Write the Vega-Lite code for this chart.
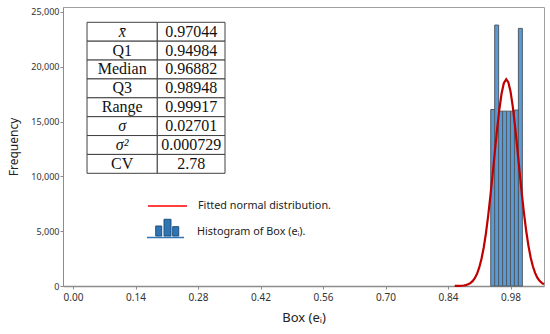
{
  "$schema": "https://vega.github.io/schema/vega-lite/v6.json",
  "width": 481,
  "height": 279,
  "autosize": {"type": "none"},
  "padding": {"left": 63, "top": 7, "right": 6, "bottom": 48},
  "background": "white",
  "config": {
    "view": {"stroke": "#a0a0a0", "strokeWidth": 1},
    "axis": {
      "grid": false,
      "domainColor": "#8c8c8c",
      "tickColor": "#8c8c8c",
      "tickSize": 3,
      "labelFont": "Noto Sans",
      "labelColor": "#333333",
      "titleFont": "Noto Sans",
      "titleFontWeight": "normal",
      "titleColor": "#222222"
    }
  },
  "datasets": {
    "hist": [
      {"x0": 0.9357, "x1": 0.94455, "count": 16100},
      {"x0": 0.94455, "x1": 0.9534, "count": 23800},
      {"x0": 0.9534, "x1": 0.96225, "count": 15950},
      {"x0": 0.96225, "x1": 0.9711, "count": 15950},
      {"x0": 0.9711, "x1": 0.97995, "count": 15950},
      {"x0": 0.97995, "x1": 0.9888, "count": 15950},
      {"x0": 0.9888, "x1": 0.99765, "count": 16050},
      {"x0": 0.99765, "x1": 1.0065, "count": 23500}
    ],
    "normal": [
      {"x": 0.855, "freq": 3},
      {"x": 0.86, "freq": 6},
      {"x": 0.865, "freq": 12},
      {"x": 0.87, "freq": 24},
      {"x": 0.875, "freq": 46},
      {"x": 0.88, "freq": 85},
      {"x": 0.885, "freq": 152},
      {"x": 0.89, "freq": 263},
      {"x": 0.895, "freq": 440},
      {"x": 0.9, "freq": 712},
      {"x": 0.905, "freq": 1115},
      {"x": 0.91, "freq": 1691},
      {"x": 0.915, "freq": 2480},
      {"x": 0.92, "freq": 3517},
      {"x": 0.925, "freq": 4828},
      {"x": 0.93, "freq": 6411},
      {"x": 0.935, "freq": 8236},
      {"x": 0.94, "freq": 10237},
      {"x": 0.945, "freq": 12310},
      {"x": 0.95, "freq": 14324},
      {"x": 0.955, "freq": 16124},
      {"x": 0.96, "freq": 17559},
      {"x": 0.965, "freq": 18500},
      {"x": 0.9704, "freq": 18860},
      {"x": 0.975, "freq": 18598},
      {"x": 0.98, "freq": 17746},
      {"x": 0.985, "freq": 16382},
      {"x": 0.99, "freq": 14630},
      {"x": 0.995, "freq": 12642},
      {"x": 1.0, "freq": 10567},
      {"x": 1.005, "freq": 8547},
      {"x": 1.01, "freq": 6688},
      {"x": 1.015, "freq": 5062},
      {"x": 1.02, "freq": 3708},
      {"x": 1.025, "freq": 2627},
      {"x": 1.03, "freq": 1801},
      {"x": 1.035, "freq": 1194},
      {"x": 1.04, "freq": 766},
      {"x": 1.045, "freq": 476},
      {"x": 1.05, "freq": 286},
      {"x": 1.055, "freq": 166}
    ],
    "stats": [
      {"stat": "x̄", "value": "0.97044"},
      {"stat": "Q1", "value": "0.94984"},
      {"stat": "Median", "value": "0.96882"},
      {"stat": "Q3", "value": "0.98948"},
      {"stat": "Range", "value": "0.99917"},
      {"stat": "σ", "value": "0.02701"},
      {"stat": "σ²", "value": "0.000729"},
      {"stat": "CV", "value": "2.78"}
    ]
  },
  "layer": [
    {
      "layer": [
        {
          "data": {"name": "hist"},
          "mark": {"type": "rect", "fill": "#5b9bd5", "stroke": "#505a64", "strokeWidth": 1},
          "encoding": {
            "x": {
              "field": "x0", "type": "quantitative",
              "scale": {"domain": [-0.0224, 1.055], "nice": false, "zero": false},
              "axis": {
                "values": [0, 0.14, 0.28, 0.42, 0.56, 0.7, 0.84, 0.98],
                "format": ".2f",
                "labelFontSize": 10,
                "labelPadding": 3,
                "title": "Box (eᵢ)",
                "titleFontSize": 13,
                "titlePadding": 9,
                "domainWidth": 1.5
              }
            },
            "x2": {"field": "x1"},
            "y": {
              "field": "count", "type": "quantitative",
              "scale": {"domain": [0, 25450], "nice": false},
              "axis": {
                "values": [0, 5000, 10000, 15000, 20000, 25000],
                "format": ",.0f",
                "formatType": "number",
                "labelFontSize": 9,
                "labelPadding": 1,
                "title": "Frequency",
                "titleFontSize": 12,
                "titlePadding": 10
              }
            },
            "y2": {"datum": 0}
          }
        },
        {
          "data": {"name": "normal"},
          "mark": {"type": "line", "color": "#c00000", "strokeWidth": 2.2},
          "encoding": {
            "x": {"field": "x", "type": "quantitative"},
            "y": {"field": "freq", "type": "quantitative"}
          }
        },
        {
          "data": {"values": [{}]},
          "mark": {"type": "rule", "color": "#ff0000", "strokeWidth": 1.5},
          "encoding": {
            "x": {"datum": 0.168}, "x2": {"datum": 0.2554},
            "y": {"datum": 7299}
          }
        },
        {
          "data": {"values": [{}]},
          "mark": {"type": "rule", "color": "#2e75b6", "strokeWidth": 1.5},
          "encoding": {
            "x": {"datum": 0.1658}, "x2": {"datum": 0.2487},
            "y": {"datum": 4425}
          }
        },
        {
          "data": {"values": [{}]},
          "mark": {"type": "rect", "fill": "#2e75b6", "stroke": "#1f4e79", "strokeWidth": 1},
          "encoding": {
            "x": {"datum": 0.1853}, "x2": {"datum": 0.1987},
            "y": {"datum": 5474}, "y2": {"datum": 4562}
          }
        },
        {
          "data": {"values": [{}]},
          "mark": {"type": "rect", "fill": "#2e75b6", "stroke": "#1f4e79", "strokeWidth": 1},
          "encoding": {
            "x": {"datum": 0.2039}, "x2": {"datum": 0.2195},
            "y": {"datum": 6086}, "y2": {"datum": 4562}
          }
        },
        {
          "data": {"values": [{}]},
          "mark": {"type": "rect", "fill": "#2e75b6", "stroke": "#1f4e79", "strokeWidth": 1},
          "encoding": {
            "x": {"datum": 0.2233}, "x2": {"datum": 0.2368},
            "y": {"datum": 5411}, "y2": {"datum": 4562}
          }
        },
        {
          "data": {"values": [{}]},
          "mark": {"type": "text", "text": "Fitted normal distribution.", "align": "left", "baseline": "middle", "font": "Noto Sans", "fontSize": 10.8, "color": "#222222"},
          "encoding": {"x": {"datum": 0.28}, "y": {"datum": 7299}}
        },
        {
          "data": {"values": [{}]},
          "mark": {"type": "text", "text": "Histogram of Box (eᵢ).", "align": "left", "baseline": "middle", "font": "Noto Sans", "fontSize": 10.8, "color": "#222222"},
          "encoding": {"x": {"datum": 0.2778}, "y": {"datum": 4954}}
        }
      ]
    },
    {
      "data": {"name": "stats"},
      "layer": [
        {
          "mark": {"type": "rect", "fill": "white", "stroke": "#404040", "strokeWidth": 1},
          "encoding": {
            "x": {"datum": 0.0314}, "x2": {"datum": 0.1888},
            "y": {"field": "stat", "type": "nominal", "sort": null,
                  "scale": {"domain": ["x̄", "Q1", "Median", "Q3", "Range", "σ", "σ²", "CV"], "range": [15.3, 166.3], "paddingInner": 0, "paddingOuter": 0},
                  "axis": null}
          }
        },
        {
          "mark": {"type": "rect", "fill": "white", "stroke": "#404040", "strokeWidth": 1},
          "encoding": {
            "x": {"datum": 0.1888}, "x2": {"datum": 0.3405},
            "y": {"field": "stat", "type": "nominal", "sort": null, "axis": null}
          }
        },
        {
          "transform": [{"filter": {"not": {"field": "stat", "oneOf": ["x̄", "σ", "σ²"]}}}],
          "mark": {"type": "text", "font": "Liberation Serif", "fontSize": 16, "color": "#111111", "baseline": "middle"},
          "encoding": {
            "x": {"datum": 0.1102},
            "y": {"field": "stat", "type": "nominal", "sort": null, "axis": null},
            "text": {"field": "stat"}
          }
        },
        {
          "transform": [{"filter": {"field": "stat", "oneOf": ["x̄", "σ", "σ²"]}}],
          "mark": {"type": "text", "font": "Liberation Serif", "fontSize": 16, "fontStyle": "italic", "color": "#111111", "baseline": "middle"},
          "encoding": {
            "x": {"datum": 0.1102},
            "y": {"field": "stat", "type": "nominal", "sort": null, "axis": null},
            "text": {"field": "stat"}
          }
        },
        {
          "mark": {"type": "text", "font": "Liberation Serif", "fontSize": 16, "color": "#111111", "baseline": "middle"},
          "encoding": {
            "x": {"datum": 0.2648},
            "y": {"field": "stat", "type": "nominal", "sort": null, "axis": null},
            "text": {"field": "value"}
          }
        }
      ]
    }
  ],
  "resolve": {"scale": {"y": "independent"}}
}
